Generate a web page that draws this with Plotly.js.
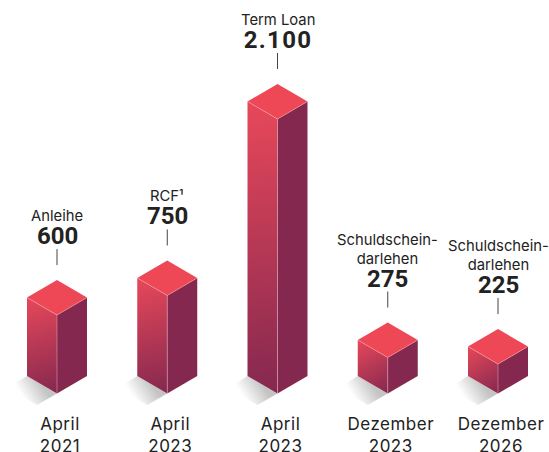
<!DOCTYPE html>
<html><head><meta charset="utf-8">
<script src="https://cdn.plot.ly/plotly-3.0.1.min.js"></script>
<style>html,body{margin:0;padding:0;background:#fff;overflow:hidden}#c{width:549px;height:452px}
.xtick text{letter-spacing:0.5px}</style>
</head><body><div id="c"></div>
<script>
const categories = ["April<br>2021","April<br>2023","April<br>2023","Dezember<br>2023","Dezember<br>2026"];
const names = ["Anleihe","RCF¹","Term Loan","Schuldschein-<br>darlehen","Schuldschein-<br>darlehen"];
const values = [600,750,2100,275,225];
const valueLabels = ["600","750","2.100","275","225"];

const FONT = "Inter, 'Noto Sans', sans-serif";
const NUMFONT = "Roboto, sans-serif";
const INK = "#222222";
const TOP = "#EE4856", RIGHT = "#84284F", LEFT_HI = "#E8485A", LEFT_LO = "#84284F";
const PXX = 110.25, PXY = 0.1307;         // pixels per category step, pixels per value unit
const hw = 30/PXX, hh = 17.5/PXY;         // half width / half height of the top diamond
const W = 549, H = 452, MB = 42, BASE = 393.5, X0 = 57;
const xRange = [-X0/PXX, (W-X0)/PXX];
const yRange = [-(H-MB-BASE)/PXY, BASE/PXY];

const px = p => p/PXX, py = p => p/PXY;
const traces = [];
function poly(xs, ys, extra){
  traces.push(Object.assign({type:"scatter",mode:"lines",x:xs.concat(xs[0]),y:ys.concat(ys[0]),
    fill:"toself",line:{width:0},hoverinfo:"skip",showlegend:false},extra));
}
function seg(xs, ys, color, w){
  traces.push({type:"scatter",mode:"lines",x:xs,y:ys,line:{color:color,width:w},hoverinfo:"skip",showlegend:false});
}
values.forEach((v,i)=>{
  poly([i-hw, i, i-px(20), i-px(49)],[hh, 0, -py(11.5), py(5.5)],
       {name:"shadow",fillgradient:{type:"horizontal",colorscale:[[0,"#ffffff"],[1,"#c4c4c4"]]}});
  poly([i-hw, i, i, i-hw],[hh, 0, v, v+hh],
       {name:"left",fillgradient:{type:"vertical",colorscale:[[0,LEFT_LO],[1,LEFT_HI]]}});
  poly([i, i+hw, i+hw, i],[0, hh, v+hh, v],{name:"right",fillcolor:RIGHT});
  poly([i-hw, i, i+hw, i],[v+hh, v, v+hh, v+2*hh],{name:"top",fillcolor:TOP});
  seg([i-hw,i,i+hw],[v+hh,v,v+hh],"rgba(255,190,190,0.55)",0.7);
  seg([i,i],[0,v],"rgba(255,200,210,0.5)",0.8);
  seg([i,i],[v+py(50),v+py(66)],"#444444",1);
});

const annotations = [];
values.forEach((v,i)=>{
  annotations.push({xref:"x",yref:"y",x:i,y:v,yshift:63,yanchor:"bottom",xanchor:"center",showarrow:false,
    text:"<b>"+valueLabels[i]+"</b>",font:{family:NUMFONT,size:24,color:INK}});
  annotations.push({xref:"x",yref:"y",x:i,y:v,yshift:88,yanchor:"bottom",xanchor:"center",showarrow:false,
    text:names[i],font:{family:FONT,size:14.8,color:INK}});
});

const layout = {
  width:W,height:H,margin:{l:0,r:0,t:0,b:MB,pad:0},
  paper_bgcolor:"#fff",plot_bgcolor:"rgba(0,0,0,0)",showlegend:false,
  xaxis:{range:xRange,showgrid:false,zeroline:false,showline:false,ticks:"",ticklabelstandoff:2,
    tickmode:"array",tickvals:categories.map((_,i)=>i+3/PXX),ticktext:categories,tickangle:0,
    tickfont:{family:FONT,size:17,color:INK}},
  yaxis:{range:yRange,visible:false,showgrid:false,zeroline:false},
  annotations:annotations
};
// gradient direction inside each polygon's box: start x,y then stop x,y (fractions)
const tilt = {shadow:[0.69,0.3,0.3,0.72], left:[1,1,0,0]};
Plotly.newPlot("c",traces,layout,{displayModeBar:false,staticPlot:true}).then(gd=>{
  gd.querySelectorAll(".scatterlayer .trace").forEach((t,k)=>{
    const tr=gd.data[k], a=tilt[tr&&tr.name]; if(!a)return;
    const p=t.querySelector(".js-fill"); if(!p)return;
    const m=(p.style.fill||p.getAttribute("fill")||"").match(/#([^"')]+)/); if(!m)return;
    const g=document.getElementById(m[1]); if(!g)return;
    const b=p.getBBox();
    g.setAttribute("gradientUnits","userSpaceOnUse");
    g.setAttribute("x1",b.x+a[0]*b.width); g.setAttribute("y1",b.y+a[1]*b.height);
    g.setAttribute("x2",b.x+a[2]*b.width); g.setAttribute("y2",b.y+a[3]*b.height);
  });
  gd.querySelectorAll(".annotation-text").forEach(t=>{
    if(t.textContent==="2.100") t.style.letterSpacing="1.3px";
  });
});
</script></body></html>
